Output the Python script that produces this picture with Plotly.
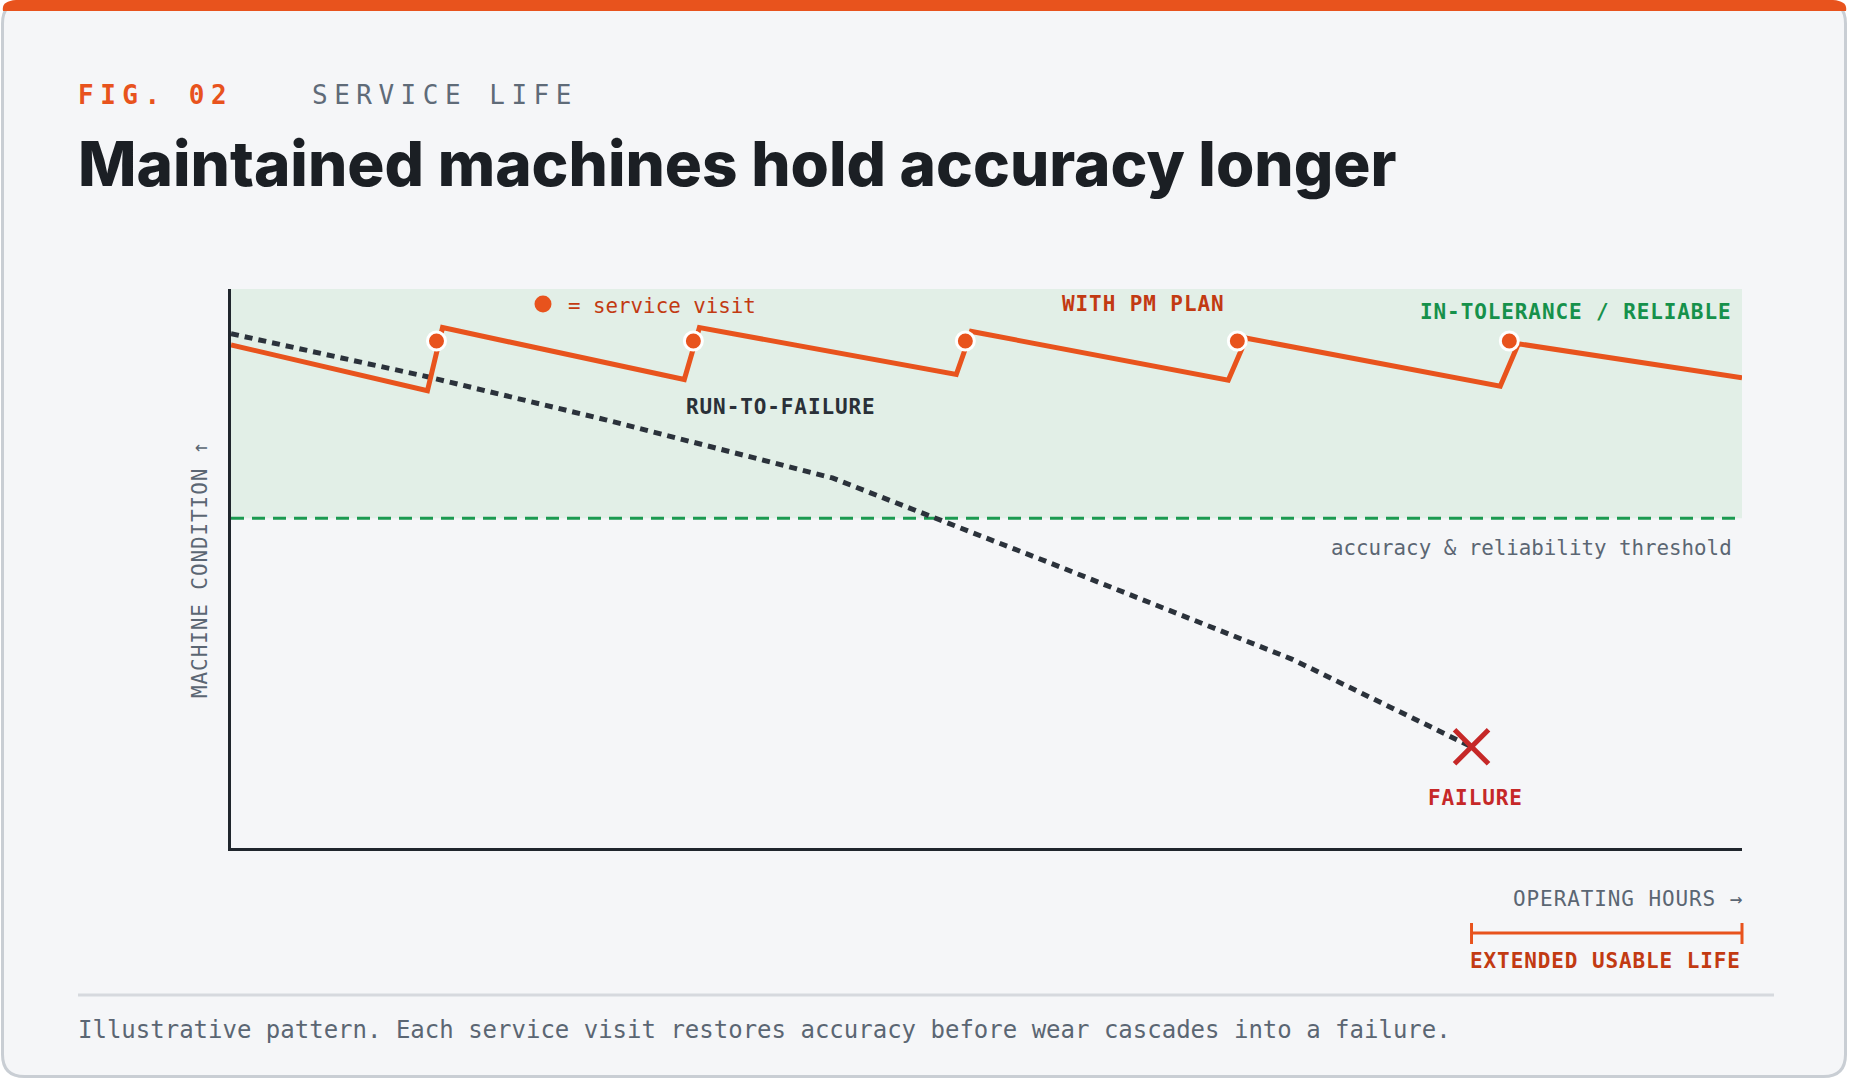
import plotly.graph_objects as go

# ---------------- data (hours / condition, arbitrary 0-100 scales) ----------------
pm_hours = [0, 13.0, 14.0, 30.0, 31.0, 48.0, 49.0, 66.0, 67.2, 84.0, 85.2, 100]
pm_condition = [90.0, 81.8, 93.1, 83.8, 93.1, 84.7, 92.4, 83.7, 91.2, 82.6, 90.2, 84.1]
visit_hours = [13.6, 30.6, 48.6, 66.6, 84.6]
visit_condition = [90.7, 90.7, 90.7, 90.7, 90.7]
rtf_hours = [0, 13.0, 24.8, 39.8, 54.2, 70.2, 82.1]
rtf_condition = [92.0, 84.3, 76.6, 66.2, 51.0, 33.8, 18.1]
failure_hours = [82.1]
failure_condition = [18.1]
threshold = 59.0
x_range = [0, 100]
y_range = [0, 100]

# ---------------- layout constants ----------------
W, H = 1851, 1080
ML, MR, MT, MB = 231, 109, 289, 232
PW, PH = W - ML - MR, H - MT - MB


def px(x):
    return (x - ML) / PW


def py(y):
    return (H - MB - y) / PH


def xfrac(v):
    return (v - x_range[0]) / (x_range[1] - x_range[0])


ORANGE = "#e8531d"
ORANGE_TXT = "#c23a12"
GREEN = "#1b9a50"
GREEN_TXT = "#16914b"
BAND = "#e2efe7"
CARD = "#f5f6f8"
BORDER = "#c9ced4"
INK = "#1b1f24"
AXIS = "#20262d"
DOT_LINE = "#2b323b"
GRAY = "#5b6673"
RED = "#c62828"
MONO = "DejaVu Sans Mono"
SANS = "Inter"


def path_from(points_cmds):
    out = []
    for cmd, pts in points_cmds:
        coords = " ".join(f"{px(x):.5f},{py(y):.5f}" for x, y in pts)
        out.append(f"{cmd}{coords}")
    return " ".join(out) + " Z"


def rounded_rect(x0, y0, x1, y1, r):
    return path_from([
        ("M", [(x0 + r, y0)]),
        ("L", [(x1 - r, y0)]),
        ("Q", [(x1, y0), (x1, y0 + r)]),
        ("L", [(x1, y1 - r)]),
        ("Q", [(x1, y1), (x1 - r, y1)]),
        ("L", [(x0 + r, y1)]),
        ("Q", [(x0, y1), (x0, y1 - r)]),
        ("L", [(x0, y0 + r)]),
        ("Q", [(x0, y0), (x0 + r, y0)]),
    ])


fig = go.Figure()

fig.add_trace(go.Scatter(
    x=rtf_hours, y=rtf_condition, mode="lines",
    line=dict(color=DOT_LINE, width=5, dash="8px,6px"),
    hoverinfo="skip", name="Run-to-failure"))
fig.add_trace(go.Scatter(
    x=pm_hours, y=pm_condition, mode="lines",
    line=dict(color=ORANGE, width=5),
    hoverinfo="skip", name="With PM plan"))
fig.add_trace(go.Scatter(
    x=visit_hours, y=visit_condition, mode="markers",
    marker=dict(size=18, color=ORANGE, line=dict(color="white", width=3)),
    hoverinfo="skip", name="Service visit"))
fig.add_trace(go.Scatter(
    x=failure_hours, y=failure_condition, mode="markers",
    marker=dict(symbol="x-thin", size=34, color=RED, line=dict(color=RED, width=5)),
    hoverinfo="skip", name="Failure"))

shapes = [
    # card
    dict(type="path", xref="paper", yref="paper", layer="below",
         path=rounded_rect(2.5, 1.5, 1845.5, 1076.5, 22),
         fillcolor=CARD, line=dict(color=BORDER, width=3)),
    # top accent bar
    dict(type="path", xref="paper", yref="paper", layer="above",
         path=path_from([
             ("M", [(3, 11)]),
             ("Q", [(1, 1), (16, 0)]),
             ("L", [(1833, 0)]),
             ("Q", [(1848, 1), (1846, 11)]),
         ]),
         fillcolor=ORANGE, line=dict(width=0)),
    # in-tolerance band
    dict(type="rect", xref="x", yref="y", layer="below",
         x0=x_range[0], x1=x_range[1], y0=threshold, y1=y_range[1],
         fillcolor=BAND, line=dict(width=0)),
    # threshold
    dict(type="line", xref="x", yref="y", layer="below",
         x0=x_range[0], x1=x_range[1], y0=threshold, y1=threshold,
         line=dict(color=GREEN, width=3, dash="13px,8px")),
    # footer separator
    dict(type="line", xref="paper", yref="paper",
         x0=px(78), x1=px(1774), y0=py(995), y1=py(995),
         line=dict(color="#d6d9de", width=3)),
    # extended life bracket
    dict(type="line", xref="paper", yref="paper",
         x0=xfrac(failure_hours[0]), x1=xfrac(x_range[1]), y0=py(933), y1=py(933),
         line=dict(color=ORANGE, width=3)),
    dict(type="line", xref="paper", yref="paper",
         x0=xfrac(failure_hours[0]), x1=xfrac(failure_hours[0]), y0=py(923), y1=py(944),
         line=dict(color=ORANGE, width=3)),
    dict(type="line", xref="paper", yref="paper",
         x0=xfrac(x_range[1]), x1=xfrac(x_range[1]), y0=py(923), y1=py(944),
         line=dict(color=ORANGE, width=3)),
    # legend dot
    dict(type="circle", xref="paper", yref="paper", xsizemode="pixel", ysizemode="pixel",
         xanchor=px(543), yanchor=py(304), x0=-8.5, x1=8.5, y0=-8.5, y1=8.5,
         fillcolor=ORANGE, line=dict(width=0)),
]


def ls(text, sp):
    return f'<span style="letter-spacing:{sp}px">{text}</span>'


def ann(text, x, y, size, color, xanchor="left", yanchor="middle",
        family=MONO, weight="normal", angle=0):
    return dict(text=text, x=px(x), y=py(y), xref="paper", yref="paper",
                xanchor=xanchor, yanchor=yanchor, showarrow=False, textangle=angle,
                borderpad=0, borderwidth=0,
                font=dict(family=family, size=size, color=color, weight=weight))


annotations = [
    ann(ls("FIG. 02", 6.5), 78, 94.5, 26, ORANGE, weight="bold"),
    ann(ls("SERVICE LIFE", 6.5), 312, 94.5, 26, "#5f6b78"),
    ann("Maintained machines hold accuracy longer", 77.5, 163.5, 62, INK,
        family=SANS, weight=800),
    ann("= service visit", 568, 306, 20.8, ORANGE_TXT),
    ann(ls("WITH PM PLAN", 0.9), 1062, 303.5, 21, ORANGE_TXT, weight="bold"),
    ann(ls("IN-TOLERANCE / RELIABLE", 0.9), 1732, 312, 21, GREEN_TXT,
        xanchor="right", weight="bold"),
    ann(ls("RUN-TO-FAILURE", 0.9), 686, 407, 21, "#2a3038", weight="bold"),
    ann("accuracy &amp; reliability threshold", 1732, 548, 20.8, GRAY, xanchor="right"),
    ann(ls("FAILURE", 0.9), 1475, 798, 21, RED, xanchor="center", weight="bold"),
    ann(ls("MACHINE CONDITION \u2191", 0.9), 200, 570, 21, GRAY,
        xanchor="center", angle=-90),
    ann(ls("OPERATING HOURS \u2192", 0.9), 1743, 899, 21, GRAY, xanchor="right"),
    ann(ls("EXTENDED USABLE LIFE", 0.9), 1741, 961, 21, ORANGE_TXT,
        xanchor="right", weight="bold"),
    ann("Illustrative pattern. Each service visit restores accuracy before wear "
        "cascades into a failure.", 78, 1030, 24, GRAY),
]

axis_common = dict(showgrid=False, zeroline=False, showticklabels=False, ticks="",
                   showline=True, linecolor=AXIS, linewidth=3, fixedrange=True)

fig.update_layout(
    width=W, height=H,
    margin=dict(l=ML, r=MR, t=MT, b=MB, pad=0),
    paper_bgcolor="#ffffff",
    plot_bgcolor="rgba(0,0,0,0)",
    showlegend=False,
    xaxis=dict(range=x_range, **axis_common),
    yaxis=dict(range=y_range, **axis_common),
    shapes=shapes,
    annotations=annotations,
)

fig.write_html("out.html", config={"displayModeBar": False})
